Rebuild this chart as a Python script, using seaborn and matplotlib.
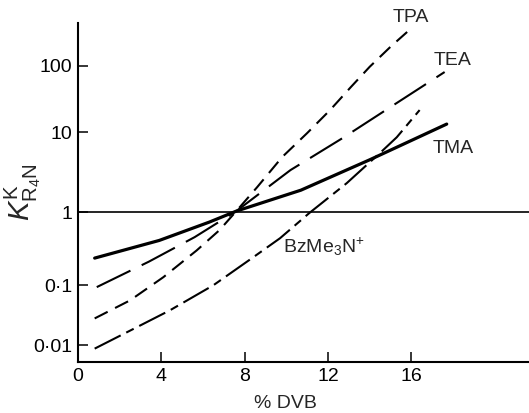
import numpy as np
import matplotlib
matplotlib.use("Agg")
import matplotlib.pyplot as plt
from matplotlib.ticker import NullLocator
import seaborn as sns

# values (x = % DVB, y = selectivity coefficient)
tma_x = [0.8, 3.9, 6.3, 7.6, 10.7, 14.0, 17.7]
tma_y = [0.235, 0.41, 0.73, 1.03, 1.88, 4.5, 13.2]

tea_x = [0.9, 3.4, 5.6, 7.6, 10.2, 12.7, 15.3, 17.6]
tea_y = [0.093, 0.21, 0.455, 1.03, 3.35, 8.4, 27.5, 81]

tpa_x = [0.8, 2.5, 4.1, 5.7, 6.8, 7.6, 8.6, 9.8, 11.0, 12.1, 13.1, 14.0, 15.0, 15.8]
tpa_y = [0.028, 0.056, 0.129, 0.30, 0.57, 1.03, 2.05, 4.87, 9.7, 21.5, 48, 97, 195, 327]

bz_x = [0.8, 2.35, 4.4, 6.5, 8.4, 9.7, 11.1, 12.9, 14.6, 15.3, 16.4]
bz_y = [0.0088, 0.0165, 0.038, 0.1, 0.24, 0.44, 0.97, 2.3, 5.8, 8.6, 21.5]

x_ticks = [0, 4, 8, 12, 16]
y_ticks = [0.01, 0.1, 1, 10, 100]
y_ticklabels = ["0·01", "0·1", "1", "10", "100"]

# the original log axis is hand drawn: the decades are not equally spaced
dec_log = [-4, -3, -2, -1, 0, 1, 2, 3, 4]
dec_pos = [-120, -60, 0, 60, 133, 213, 279, 345, 411]


def fwd(v):
    v = np.clip(np.asarray(v, dtype=float), 1e-12, None)
    return np.interp(np.log10(v), dec_log, dec_pos)


def inv(p):
    return 10 ** np.interp(np.asarray(p, dtype=float), dec_pos, dec_log)


sns.set_style("ticks")
plt.rcParams['font.family'] = ['Liberation Sans', 'DejaVu Sans']
plt.rcParams['mathtext.fontset'] = 'custom'
plt.rcParams['mathtext.rm'] = 'Liberation Sans'
plt.rcParams['mathtext.it'] = 'Liberation Sans:italic'

fig = plt.figure(figsize=(5.29, 4.13), dpi=100)
ax = fig.add_axes([78 / 529, 51 / 413, 451 / 529, 339 / 413])
ax.set_yscale('function', functions=(fwd, inv))

ax.axhline(1, color="black", linewidth=1.2)

sns.lineplot(x=tma_x, y=tma_y, ax=ax, color="black", linewidth=2.3, sort=False)
sns.lineplot(x=tea_x, y=tea_y, ax=ax, color="black", linewidth=1.5,
             linestyle=(0, (18, 6)), sort=False)
sns.lineplot(x=tpa_x, y=tpa_y, ax=ax, color="black", linewidth=1.5,
             linestyle=(0, (7, 4)), sort=False)
sns.lineplot(x=bz_x, y=bz_y, ax=ax, color="black", linewidth=1.5,
             linestyle=(0, (14, 3, 4, 3)), sort=False)

# curve labels
ax.text(16.0, 550, "TPA", fontsize=14, ha="center", va="center")
ax.text(18.0, 119, "TEA", fontsize=14, ha="center", va="center")
ax.text(18.0, 6.3, "TMA", fontsize=14, ha="center", va="center")
ax.text(9.85, 0.34, r"BzMe$_3$N$^{+}$", fontsize=14, ha="left", va="center")

ax.set_xlim(0, 21.65)
ax.set_ylim(0.00527, 447)
ax.set_xticks(x_ticks)
ax.set_yticks(y_ticks)
ax.set_yticklabels(y_ticklabels)
ax.yaxis.set_minor_locator(NullLocator())
ax.xaxis.set_minor_locator(NullLocator())
ax.tick_params(direction="in", length=7, width=1.1, labelsize=14, pad=4,
               colors="black")

ax.set_xlabel("% DVB", fontsize=14)
ax.xaxis.set_label_coords(0.46, -0.097)
ax.set_ylabel(r"$K^{\mathrm{K}}_{\mathrm{R_4N}}$", fontsize=21)
ax.yaxis.set_label_coords(-0.078, 0.5)

for side in ["top", "right"]:
    ax.spines[side].set_visible(False)
for side in ["left", "bottom"]:
    ax.spines[side].set_linewidth(1.5)
    ax.spines[side].set_color("black")

fig.savefig("out.png", dpi=100)
